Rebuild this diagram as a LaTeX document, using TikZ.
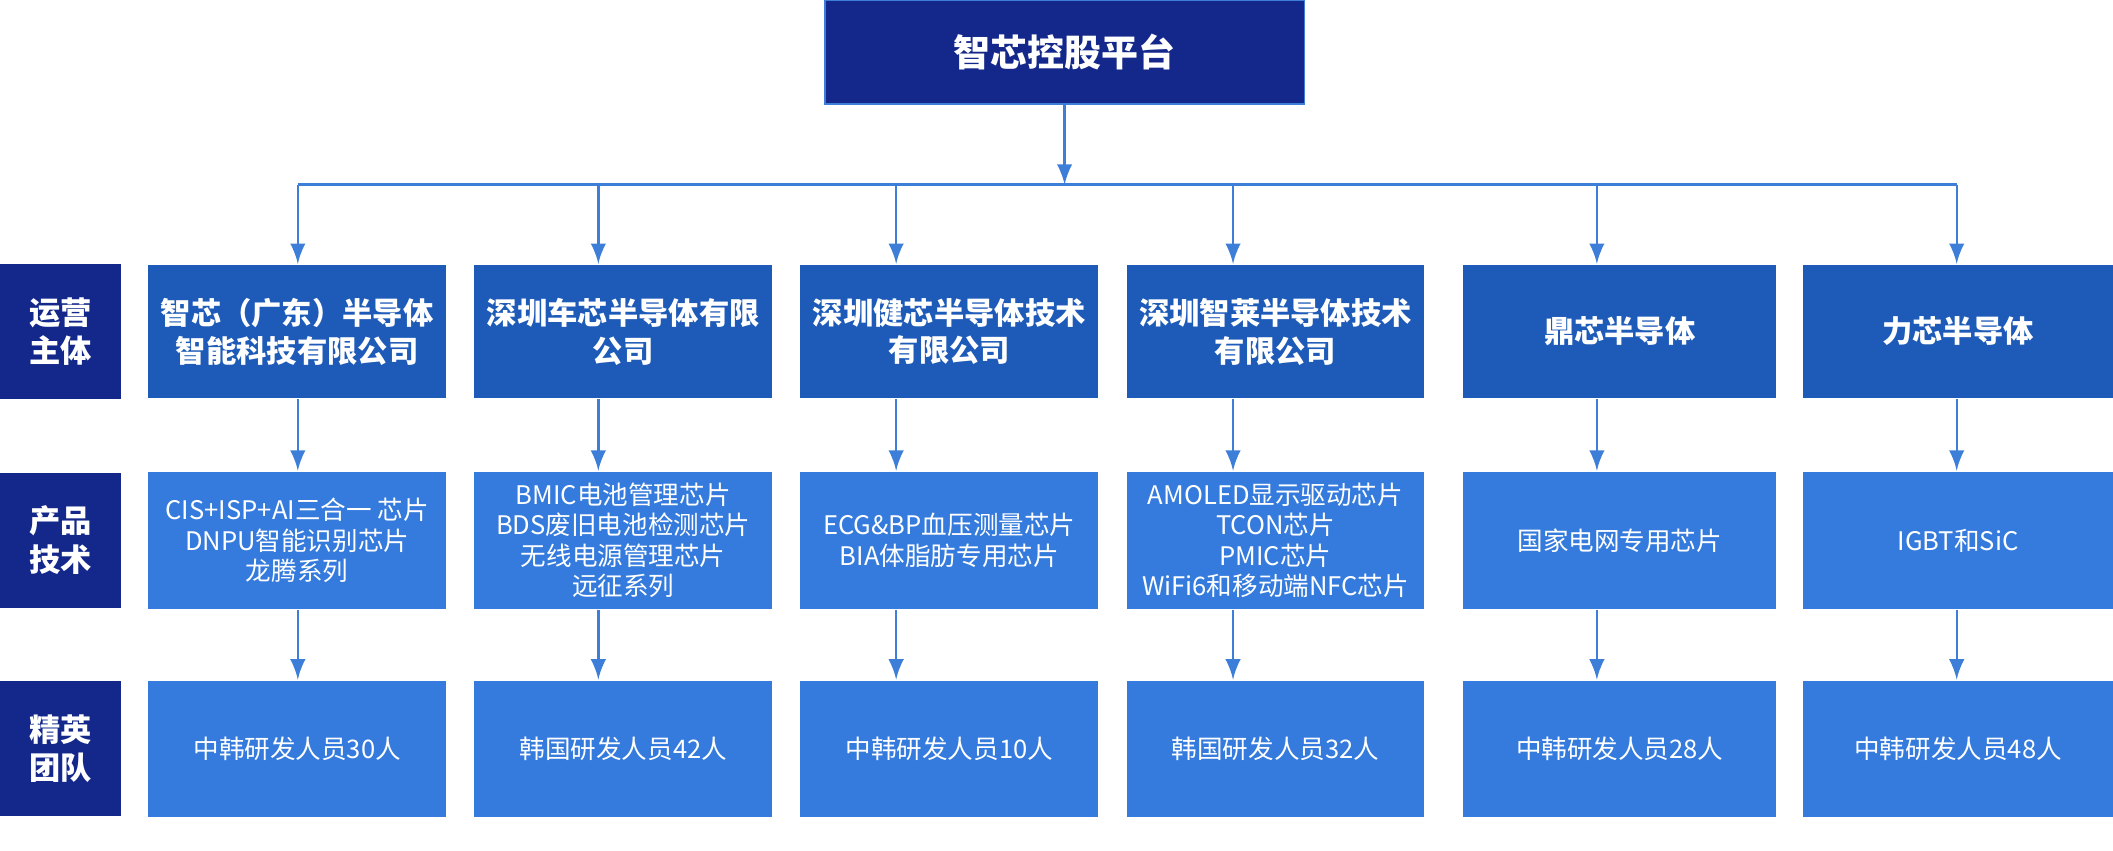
\documentclass[tikz,border=0pt]{standalone}
\usepackage{fontspec}
\setmainfont{Noto Sans CJK SC}
\usetikzlibrary{calc,positioning}
\tikzset{>=latex}
\definecolor{navy}{HTML}{13288A}
\definecolor{midblue}{HTML}{1E5BB8}
\definecolor{liteblue}{HTML}{347BDD}
\definecolor{linkblue}{HTML}{3D7FD8}
\tikzset{
  navybox/.style={fill=navy,text=white,font=\bfseries\fontsize{6.6}{8.2}\selectfont,align=center,inner sep=0pt,minimum width=0.9cm,minimum height=1cm},
  unitbox/.style={fill=midblue,text=white,font=\bfseries\fontsize{6.4}{8}\selectfont,align=center,inner sep=0pt,minimum width=2.21cm,minimum height=0.99cm},
  techbox/.style={fill=liteblue,text=white,font=\fontsize{5.4}{6.4}\selectfont,align=center,inner sep=0pt,minimum width=2.21cm,minimum height=1.02cm},
  link/.style={draw=linkblue,line width=0.5pt}
}
\begin{document}
\begin{tikzpicture}
\useasboundingbox (0,0) rectangle (15.68,-6.31);
\node[navybox,draw=linkblue,minimum width=3.56cm,minimum height=0.77cm,font=\bfseries\fontsize{7.8}{9}\selectfont] (top) at (7.9,-0.385) {智芯控股平台};
% row labels
\node[navybox] (l1) at (0.45,-2.46) {运营\\主体};
\node[navybox] (l2) at (0.45,-4.01) {产品\\技术};
\node[navybox] (l3) at (0.45,-5.555) {精英\\团队};
% units
\node[unitbox] (u1) at (2.205,-2.46) {智芯（广东）半导体\\智能科技有限公司};
\node[unitbox] (u2) at (4.625,-2.46) {深圳车芯半导体有限\\公司};
\node[unitbox] (u3) at (7.045,-2.46) {深圳健芯半导体技术\\有限公司};
\node[unitbox] (u4) at (9.465,-2.46) {深圳智莱半导体技术\\有限公司};
\node[unitbox,minimum width=2.32cm] (u5) at (12.02,-2.46) {鼎芯半导体};
\node[unitbox,minimum width=2.3cm] (u6) at (14.53,-2.46) {力芯半导体};
% products
\node[techbox] (p1) at (2.205,-4.01) {CIS+ISP+AI三合一 芯片\\DNPU智能识别芯片\\龙腾系列};
\node[techbox] (p2) at (4.625,-4.01) {BMIC电池管理芯片\\BDS废旧电池检测芯片\\无线电源管理芯片\\远征系列};
\node[techbox] (p3) at (7.045,-4.01) {ECG\&BP血压测量芯片\\BIA体脂肪专用芯片};
\node[techbox] (p4) at (9.465,-4.01) {AMOLED显示驱动芯片\\TCON芯片\\PMIC芯片\\WiFi6和移动端NFC芯片};
\node[techbox,minimum width=2.32cm] (p5) at (12.02,-4.01) {国家电网专用芯片};
\node[techbox,minimum width=2.3cm] (p6) at (14.53,-4.01) {IGBT和SiC};
% teams
\node[techbox,minimum height=1.01cm] (t1) at (2.205,-5.555) {中韩研发人员30人};
\node[techbox,minimum height=1.01cm] (t2) at (4.625,-5.555) {韩国研发人员42人};
\node[techbox,minimum height=1.01cm] (t3) at (7.045,-5.555) {中韩研发人员10人};
\node[techbox,minimum height=1.01cm] (t4) at (9.465,-5.555) {韩国研发人员32人};
\node[techbox,minimum height=1.01cm,minimum width=2.32cm] (t5) at (12.02,-5.555) {中韩研发人员28人};
\node[techbox,minimum height=1.01cm,minimum width=2.3cm] (t6) at (14.53,-5.555) {中韩研发人员48人};
% connectors
\coordinate (bus) at (7.9,-1.37);
\draw[link,->] (top.south) -- (bus);
\draw[link] (2.21,-1.37) -- (14.52,-1.37);
\foreach \i/\x in {1/2.21,2/4.44,3/6.65,4/9.15,5/11.85,6/14.52}{
  \draw[link,->] (\x,-1.37) -- (u\i.north -| \x,0);
  \draw[link,->] (u\i.south -| \x,0) -- (p\i.north -| \x,0);
  \draw[link,->] (p\i.south -| \x,0) -- (t\i.north -| \x,0);
}
\end{tikzpicture}
\end{document}
